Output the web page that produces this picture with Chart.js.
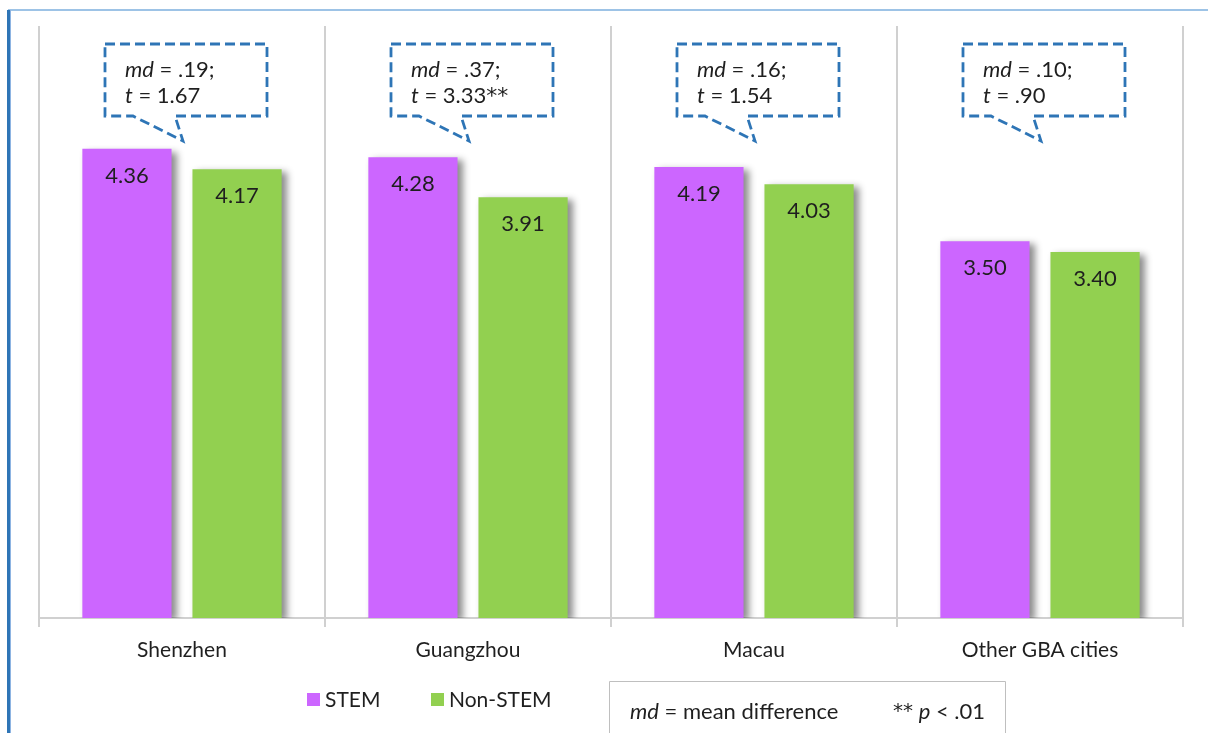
<!DOCTYPE html>
<html>
<head>
<meta charset="utf-8">
<script src="https://cdn.jsdelivr.net/npm/chart.js@4/dist/chart.umd.min.js"></script>
<style>
  html, body { margin: 0; padding: 0; background: #ffffff; }
  #wrap { position: relative; width: 1208px; height: 733px; }
  canvas { display: block; }
</style>
</head>
<body>
<div id="wrap"><canvas id="chart" width="1208" height="733"></canvas></div>
<script>
// Regions compared
const cities = ['Shenzhen', 'Guangzhou', 'Macau', 'Other GBA cities'];

// Mean scores by group
const stemScores = [4.36, 4.28, 4.19, 3.50];
const nonStemScores = [4.17, 3.91, 4.03, 3.40];

// Mean difference and t-test per region
const meanDiffs = ['.19', '.37', '.16', '.10'];
const tValues = ['1.67', '3.33', '1.54', '.90'];
const sigMarks = ['', '**', '', ''];

const STEM_COLOR = '#CC66FF';
const NON_STEM_COLOR = '#92D050';
const CALLOUT_BLUE = '#2E75B6';
const TEXT_COLOR = '#1f1f1f';
const FONT = 'Lato, "Noto Sans", sans-serif';
const STAR_FONT = '"DejaVu Sans", sans-serif';

// Soft drop shadow behind each bar
const barShadow = {
  id: 'barShadow',
  beforeDatasetDraw(chart) {
    const ctx = chart.ctx;
    ctx.save();
    ctx.shadowColor = 'rgba(0,0,0,0.45)';
    ctx.shadowBlur = 7;
    ctx.shadowOffsetX = 5;
    ctx.shadowOffsetY = 3;
  },
  afterDatasetDraw(chart) {
    chart.ctx.restore();
  }
};

// Value labels just inside the top of each bar
const valueLabels = {
  id: 'valueLabels',
  afterDatasetsDraw(chart) {
    const ctx = chart.ctx;
    ctx.save();
    ctx.font = '22px ' + FONT;
    ctx.fillStyle = TEXT_COLOR;
    ctx.textAlign = 'center';
    ctx.textBaseline = 'middle';
    chart.data.datasets.forEach((ds, di) => {
      chart.getDatasetMeta(di).data.forEach((bar, i) => {
        ctx.fillText(ds.data[i].toFixed(2), bar.x, bar.y + 27);
      });
    });
    ctx.restore();
  }
};

// Draws "italic + regular" runs left to right
function drawRuns(ctx, runs, x, y, size) {
  let cx = x;
  runs.forEach(r => {
    ctx.font = (r.italic ? 'italic ' : '') + (r.size || size) + 'px ' + (r.family || FONT);
    ctx.fillText(r.text, cx, y + (r.dy || 0));
    cx += ctx.measureText(r.text).width;
  });
  return cx;
}

// Dashed speech-bubble callouts with the t-test result above each region
const callouts = {
  id: 'callouts',
  afterDraw(chart) {
    const ctx = chart.ctx;
    const xs = chart.scales.x;
    const top = chart.chartArea.top;
    ctx.save();
    cities.forEach((c, i) => {
      const cx = xs.getPixelForValue(i);
      const left = cx - 77, right = cx + 85;
      const y0 = top + 18, y1 = top + 90;
      const tailA = left + 28, tailB = left + 70, tip = { x: left + 78, y: top + 115 };
      ctx.beginPath();
      ctx.moveTo(left, y0);
      ctx.lineTo(right, y0);
      ctx.lineTo(right, y1);
      ctx.lineTo(tailB, y1);
      ctx.lineTo(tip.x, tip.y);
      ctx.lineTo(tailA, y1);
      ctx.lineTo(left, y1);
      ctx.closePath();
      ctx.fillStyle = '#ffffff';
      ctx.fill();
      ctx.setLineDash([10, 5]);
      ctx.lineWidth = 2.8;
      ctx.strokeStyle = CALLOUT_BLUE;
      ctx.stroke();
      ctx.setLineDash([]);

      ctx.fillStyle = TEXT_COLOR;
      ctx.textAlign = 'left';
      ctx.textBaseline = 'alphabetic';
      const tx = left + 20;
      drawRuns(ctx, [{ text: 'md', italic: true }, { text: ' = ' + meanDiffs[i] + ';' }], tx, top + 51, 22);
      drawRuns(ctx, [{ text: 't', italic: true }, { text: ' = ' + tValues[i] }, { text: sigMarks[i], size: 22, family: STAR_FONT, dy: 0 }], tx, top + 77, 22);
    });
    ctx.restore();
  }
};

// Legend, note box and outer frame
const extras = {
  id: 'extras',
  afterDraw(chart) {
    const ctx = chart.ctx;
    ctx.save();
    // frame
    ctx.fillStyle = '#9DC3E6';
    ctx.fillRect(8, 9, 1200, 2);
    ctx.fillStyle = '#2E75B6';
    ctx.fillRect(7, 10, 3, 723);
    ctx.fillStyle = '#8DB4E2';
    ctx.fillRect(10, 10, 1, 723);

    // legend
    const ly = 700;
    ctx.textBaseline = 'middle';
    ctx.textAlign = 'left';
    ctx.font = '21px ' + FONT;
    let lx = 307;
    chart.data.datasets.forEach(ds => {
      ctx.fillStyle = ds.backgroundColor;
      ctx.fillRect(lx, ly - 7, 13, 13);
      ctx.fillStyle = TEXT_COLOR;
      ctx.fillText(ds.label, lx + 18, ly);
      lx += 124;
    });

    // note box
    ctx.strokeStyle = '#BFBFBF';
    ctx.lineWidth = 1;
    ctx.beginPath();
    ctx.moveTo(609.5, 740);
    ctx.lineTo(609.5, 681.5);
    ctx.lineTo(1005.5, 681.5);
    ctx.lineTo(1005.5, 740);
    ctx.stroke();
    ctx.fillStyle = TEXT_COLOR;
    ctx.textBaseline = 'middle';
    drawRuns(ctx, [{ text: 'md', italic: true }, { text: ' = mean difference' }], 630, 712, 22);
    drawRuns(ctx, [{ text: '**', size: 20, family: STAR_FONT, dy: 0 }, { text: ' ' }, { text: 'p', italic: true }, { text: ' < .01' }], 893, 712, 22);
    ctx.restore();
  }
};

new Chart(document.getElementById('chart'), {
  type: 'bar',
  data: {
    labels: cities,
    datasets: [
      { label: 'STEM', data: stemScores, backgroundColor: STEM_COLOR, borderWidth: 0 },
      { label: 'Non-STEM', data: nonStemScores, backgroundColor: NON_STEM_COLOR, borderWidth: 0 }
    ]
  },
  options: {
    responsive: false,
    animation: false,
    events: [],
    layout: { padding: { left: 39, right: 25, top: 26, bottom: 0 } },
    datasets: { bar: { categoryPercentage: 0.77, barPercentage: 0.81 } },
    plugins: { legend: { display: false }, tooltip: { enabled: false } },
    scales: {
      y: { display: false, min: 0, max: 5.5 },
      x: {
        afterFit(scale) { scale.height = 115; },
        grid: {
          offset: true,
          color: '#D0D0D0',
          lineWidth: 2,
          tickLength: 9,
          drawOnChartArea: true
        },
        border: { display: true, color: '#D0D0D0', width: 2 },
        ticks: { color: TEXT_COLOR, font: { family: FONT, size: 21 }, padding: 11 }
      }
    }
  },
  plugins: [barShadow, valueLabels, callouts, extras]
});
</script>
</body>
</html>
